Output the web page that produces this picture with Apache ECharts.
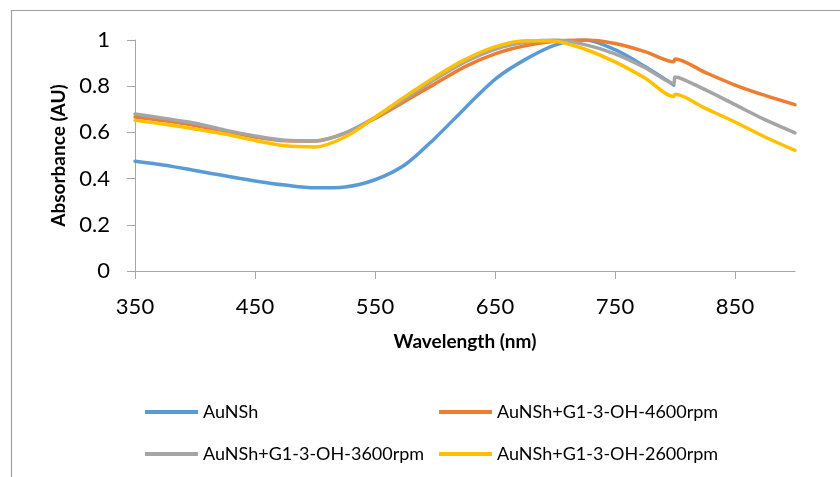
<!DOCTYPE html>
<html>
<head>
<meta charset="utf-8">
<script src="https://cdn.jsdelivr.net/npm/echarts@6/dist/echarts.min.js"></script>
<style>
  html, body {margin: 0; padding: 0; background: #fff;}
  #chart {width: 840px; height: 477px;}
</style>
</head>
<body>
<div id="chart"></div>
<script>
  // wavelength grid (nm); 799/800 pair carries the detector step
  const wl = [350, 375, 400, 425, 450, 475, 500, 525, 550, 575, 600, 625, 650, 675, 700, 725, 750, 775, 799, 800, 825, 850, 875, 900]

  const auNSh = [0.475, 0.458, 0.435, 0.412, 0.39, 0.372, 0.36, 0.364, 0.395, 0.46, 0.575, 0.705, 0.83, 0.915, 0.978, 1.0, 0.958, 0.885, 0.805, null, null, null, null, null]
  const rpm4600 = [0.667, 0.65, 0.63, 0.605, 0.58, 0.564, 0.563, 0.597, 0.66, 0.735, 0.81, 0.885, 0.94, 0.975, 0.995, 1.0, 0.985, 0.95, 0.906, 0.918, 0.86, 0.805, 0.76, 0.72]
  const rpm3600 = [0.68, 0.66, 0.64, 0.61, 0.585, 0.566, 0.563, 0.597, 0.665, 0.745, 0.83, 0.905, 0.96, 0.99, 1.0, 0.98, 0.94, 0.88, 0.812, 0.84, 0.785, 0.72, 0.655, 0.598]
  const rpm2600 = [0.652, 0.635, 0.615, 0.593, 0.565, 0.542, 0.537, 0.58, 0.665, 0.755, 0.84, 0.915, 0.97, 0.997, 0.995, 0.96, 0.905, 0.835, 0.755, 0.765, 0.705, 0.645, 0.58, 0.522]

  const names = ['AuNSh', 'AuNSh+G1-3-OH-4600rpm', 'AuNSh+G1-3-OH-3600rpm', 'AuNSh+G1-3-OH-2600rpm']
  const colors = ['#5b9bd5', '#ed7d31', '#a5a5a5', '#ffc000']
  const xTicks = [350, 450, 550, 650, 750, 850]

  const font = 'Lato'
  const axisColor = '#a6a6a6'

  let legendPos = [[140, 398], [434, 398], [140, 440], [434, 440]]

  let nameStyle = {
    fontFamily: font,
    fontSize: 19,
    fontWeight: 'bold',
    color: '#000'
  }

  let option = {
    animation: false,
    color: colors,
    grid: {
      left: 135,
      right: 45,
      top: 40,
      bottom: 206,
      containLabel: false
    },
    graphic: [{
      type: 'rect',
      shape: {x: 11.5, y: 10.5, width: 900, height: 600},
      style: {fill: 'none', stroke: '#a0a0a0', lineWidth: 1.2},
      silent: true
    }],
    legend: names.map((n, i) => ({
      data: [n],
      left: legendPos[i][0],
      top: legendPos[i][1],
      icon: 'rect',
      itemWidth: 53,
      itemHeight: 4,
      itemGap: 5,
      textStyle: {
        fontFamily: font,
        fontSize: 18,
        color: '#000'
      }
    })),
    xAxis: {
      type: 'value',
      min: 350,
      max: 900,
      name: 'Wavelength (nm)',
      nameLocation: 'middle',
      nameGap: 61,
      nameTextStyle: nameStyle,
      axisLine: {lineStyle: {color: axisColor, width: 1}},
      axisTick: {
        show: true,
        length: 8,
        customValues: xTicks,
        lineStyle: {color: axisColor}
      },
      axisLabel: {
        customValues: xTicks,
        margin: 25,
        fontFamily: font,
        fontSize: 22,
        color: '#000'
      },
      splitLine: {show: false}
    },
    yAxis: {
      type: 'value',
      min: 0,
      max: 1,
      interval: 0.2,
      name: 'Absorbance (AU)',
      nameLocation: 'middle',
      nameGap: 66,
      nameTextStyle: nameStyle,
      axisLine: {show: true, lineStyle: {color: axisColor, width: 1}},
      axisTick: {show: true, length: 8, lineStyle: {color: axisColor}},
      axisLabel: {
        margin: 25,
        fontFamily: font,
        fontSize: 22,
        color: '#000'
      },
      splitLine: {show: false}
    },
    series: [auNSh, rpm4600, rpm3600, rpm2600].map((vals, i) => ({
      name: names[i],
      type: 'line',
      smooth: 0.3,
      showSymbol: false,
      data: wl.map((w, j) => [w, vals[j]]),
      lineStyle: {width: 3.5, color: colors[i], cap: 'round', join: 'round'},
      itemStyle: {color: colors[i]}
    }))
  }

  let chart = echarts.init(document.getElementById('chart'))
  chart.setOption(option)
</script>
</body>
</html>
